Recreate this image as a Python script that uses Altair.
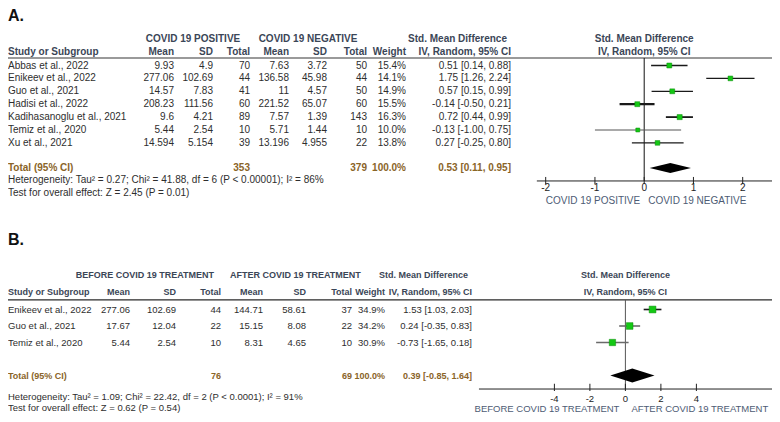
import altair as alt
import pandas as pd

# ---------------- data: panel A (COVID 19 positive vs negative) ----------------
studies_A = ["Abbas et al., 2022", "Enikeev et al., 2022", "Guo et al., 2021",
             "Hadisi et al., 2022", "Kadihasanoglu et al., 2021", "Temiz et al., 2020",
             "Xu et al., 2021"]
pos_mean_A = [9.93, 277.06, 14.57, 208.23, 9.6, 5.44, 14.594]
pos_sd_A = [4.9, 102.69, 7.83, 111.56, 4.21, 2.54, 5.154]
pos_n_A = [70, 44, 41, 60, 89, 10, 39]
neg_mean_A = [7.63, 136.58, 11, 221.52, 7.57, 5.71, 13.196]
neg_sd_A = [3.72, 45.98, 4.57, 65.07, 1.39, 1.44, 4.955]
neg_n_A = [50, 44, 50, 60, 143, 10, 22]
weight_A = [15.4, 14.1, 14.9, 15.5, 16.3, 10.0, 13.8]
smd_A = [0.51, 1.75, 0.57, -0.14, 0.72, -0.13, 0.27]
lo_A = [0.14, 1.26, 0.15, -0.50, 0.44, -1.00, -0.25]
hi_A = [0.88, 2.24, 0.99, 0.21, 0.99, 0.75, 0.80]
total_A = {"n1": 353, "n2": 379, "w": 100.0, "est": 0.53, "lo": 0.11, "hi": 0.95}
het_A = "Heterogeneity: Tau\u00b2 = 0.27; Chi\u00b2 = 41.88, df = 6 (P < 0.00001); I\u00b2 = 86%"
test_A = "Test for overall effect: Z = 2.45 (P = 0.01)"
ticks_A = [-2, -1, 0, 1, 2]
groups_A = ["COVID 19 POSITIVE", "COVID 19 NEGATIVE"]

# ---------------- data: panel B (before vs after treatment) ----------------
studies_B = ["Enikeev et al., 2022", "Guo et al., 2021", "Temiz et al., 2020"]
before_mean_B = [277.06, 17.67, 5.44]
before_sd_B = [102.69, 12.04, 2.54]
before_n_B = [44, 22, 10]
after_mean_B = [144.71, 15.15, 8.31]
after_sd_B = [58.61, 8.08, 4.65]
after_n_B = [37, 22, 10]
weight_B = [34.9, 34.2, 30.9]
smd_B = [1.53, 0.24, -0.73]
lo_B = [1.03, -0.35, -1.65]
hi_B = [2.03, 0.83, 0.18]
total_B = {"n1": 76, "n2": 69, "w": 100.0, "est": 0.39, "lo": -0.85, "hi": 1.64}
het_B = "Heterogeneity: Tau\u00b2 = 1.09; Chi\u00b2 = 22.42, df = 2 (P < 0.0001); I\u00b2 = 91%"
test_B = "Test for overall effect: Z = 0.62 (P = 0.54)"
ticks_B = [-4, -2, 0, 2, 4]
groups_B = ["BEFORE COVID 19 TREATMENT", "AFTER COVID 19 TREATMENT"]

# ---------------- layout & style ----------------
W, H = 764, 406
FONT = "Liberation Sans, Arial, sans-serif"
HEAD = "#3b4657"
BODY = "#2e2e2e"
TOTAL = "#8a6428"
GREEN = "#14c814"
AXLAB = "#4d5b74"

yA = alt.Scale(domain=[0, 10], range=[57.5, 186.5], nice=False, zero=False)
xA = alt.Scale(domain=[-2, 2], range=[537.7, 734.7], nice=False, zero=False)
yB = alt.Scale(domain=[0, 10], range=[301.5, 466.5], nice=False, zero=False)
xB = alt.Scale(domain=[-4, 4], range=[546.4, 688.4], nice=False, zero=False)

colA = {"study": 0, "m1": 166, "s1": 205, "n1": 242, "m2": 281, "s2": 319, "n2": 359, "w": 398, "ci": 503}
colB = {"study": 0, "m1": 122, "s1": 168, "n1": 213, "m2": 255, "s2": 298, "n2": 344, "w": 377, "ci": 464}
grp_pos_A = [(185, "center"), (300, "center")]
grp_pos_B = [(206, "right"), (222, "left")]

ci_color_A = ["#1a1a1a", "#1a1a1a", "#1a1a1a", "#1a1a1a", "#1a1a1a", "#555555", "#1a1a1a"]
ci_width_A = [1.3, 1.3, 1.3, 2.2, 1.8, 1.0, 1.3]
ci_color_B = ["#1a1a1a", "#6a6a6a", "#6a6a6a"]
ci_width_B = [1.6, 1.6, 1.6]


def fmt(v):
    return f"{v:g}"


def ci_txt(e, l, h):
    return f"{e:.2f} [{l:.2f}, {h:.2f}]"


def tlayer(rows, yscale, size, weight="normal", color=BODY, align="left"):
    df = pd.DataFrame(rows, columns=["px", "row", "text"])
    return alt.Chart(df).mark_text(
        align=align, baseline="middle", font=FONT, fontSize=size,
        fontWeight=weight, color=color
    ).encode(
        x=alt.X("px:Q", scale=None, axis=None),
        y=alt.Y("row:Q", scale=yscale, axis=None),
        text="text:N",
    )


def flayer(rows, xscale, yscale, size, weight="normal", color=BODY, align="center", dx=0):
    df = pd.DataFrame(rows, columns=["v", "row", "text"])
    return alt.Chart(df).mark_text(
        align=align, baseline="middle", font=FONT, fontSize=size,
        fontWeight=weight, color=color, dx=dx
    ).encode(
        x=alt.X("v:Q", scale=xscale, axis=None),
        y=alt.Y("row:Q", scale=yscale, axis=None),
        text="text:N",
    )


def panel(label, groups, grp_pos, studies, m1, s1, n1, m2, s2, n2, w, smd, lo, hi, tot, het, test,
          ticks, xs, ys, col, fsize, hsize, grp_rows, tot_row, het_row, test_row,
          ax_row, tick_rows, ticklab_row, side_row, side_dx, axis_ext,
          ci_color, ci_width, size_dom, size_rng, dia_half, line_color, line_w, zero_color,
          label_row):
    n = len(studies)
    layers = []
    # panel label
    layers.append(tlayer([(0, label_row, label)], ys, 16, "bold", "#111111"))
    # group headers
    for (px, al), g in zip(grp_pos, groups):
        layers.append(tlayer([(px, grp_rows[0], g)], ys, hsize, "bold", HEAD, al))
    layers.append(tlayer([(col["ci"] - 4, grp_rows[0], "Std. Mean Difference")], ys, hsize, "bold", HEAD, "right"))
    # column headers
    layers.append(tlayer([(col["study"], grp_rows[1], "Study or Subgroup")], ys, hsize, "bold", HEAD, "left"))
    hdr = [(col["m1"], "Mean"), (col["s1"], "SD"), (col["n1"], "Total"), (col["m2"], "Mean"),
           (col["s2"], "SD"), (col["n2"], "Total"), (col["w"], "Weight"), (col["ci"], "IV, Random, 95% CI")]
    layers.append(tlayer([(p, grp_rows[1], t) for p, t in hdr], ys, hsize, "bold", HEAD, "right"))
    # separator line
    sep = pd.DataFrame({"px": [0], "px2": [W], "row": [-0.58]})
    layers.append(alt.Chart(sep).mark_rule(color=line_color, strokeWidth=line_w).encode(
        x=alt.X("px:Q", scale=None, axis=None), x2="px2:Q",
        y=alt.Y("row:Q", scale=ys, axis=None)))
    # study rows
    layers.append(tlayer([(col["study"], i, studies[i]) for i in range(n)], ys, fsize))
    body = []
    for i in range(n):
        body += [(col["m1"], i, fmt(m1[i])), (col["s1"], i, fmt(s1[i])), (col["n1"], i, str(n1[i])),
                 (col["m2"], i, fmt(m2[i])), (col["s2"], i, fmt(s2[i])), (col["n2"], i, str(n2[i])),
                 (col["w"], i, f"{w[i]:.1f}%"), (col["ci"], i, ci_txt(smd[i], lo[i], hi[i]))]
    layers.append(tlayer(body, ys, fsize, align="right"))
    # total row
    layers.append(tlayer([(col["study"], tot_row, "Total (95% CI)")], ys, hsize, "bold", TOTAL))
    layers.append(tlayer([(col["n1"], tot_row, str(tot["n1"])), (col["n2"], tot_row, str(tot["n2"])),
                          (col["w"], tot_row, f"{tot['w']:.1f}%"),
                          (col["ci"], tot_row, ci_txt(tot["est"], tot["lo"], tot["hi"]))],
                         ys, hsize, "bold", TOTAL, "right"))
    # heterogeneity & test
    layers.append(tlayer([(0, het_row, het), (0, test_row, test)], ys, fsize))

    # ---- forest ----
    X = lambda f: alt.X(f, scale=xs, axis=None)
    Y = lambda f: alt.Y(f, scale=ys, axis=None)
    layers.append(flayer([(0, grp_rows[0], "Std. Mean Difference"), (0, grp_rows[1], "IV, Random, 95% CI")],
                         xs, ys, hsize, "bold", HEAD))
    zl = pd.DataFrame({"v": [0], "r1": [-0.58], "r2": [ax_row]})
    layers.append(alt.Chart(zl).mark_rule(color=zero_color, strokeWidth=1).encode(
        x=X("v:Q"), y=Y("r1:Q"), y2="r2:Q"))
    cdf = pd.DataFrame({"row": list(range(n)), "lo": lo, "hi": hi, "smd": smd, "w": w,
                        "c": ci_color, "sw": ci_width})
    layers.append(alt.Chart(cdf).mark_rule().encode(
        x=X("lo:Q"), x2="hi:Q", y=Y("row:Q"),
        color=alt.Color("c:N", scale=None), strokeWidth=alt.StrokeWidth("sw:Q", scale=None)))
    layers.append(alt.Chart(cdf).mark_square(color=GREEN, opacity=1, stroke="#0a8a0a", strokeWidth=0.5).encode(
        x=X("smd:Q"), y=Y("row:Q"),
        size=alt.Size("w:Q", scale=alt.Scale(domain=size_dom, range=size_rng), legend=None)))
    dia = pd.DataFrame({"v": [tot["lo"], tot["est"], tot["hi"]],
                        "r1": [tot_row, tot_row - dia_half, tot_row],
                        "r2": [tot_row, tot_row + dia_half, tot_row]})
    layers.append(alt.Chart(dia).mark_area(color="#000000", opacity=1).encode(
        x=X("v:Q"), y=Y("r1:Q"), y2="r2:Q"))
    # axis
    ax = pd.DataFrame({"v": [axis_ext[0]], "v2": [axis_ext[1]], "row": [ax_row]})
    layers.append(alt.Chart(ax).mark_rule(color="#222222", strokeWidth=1).encode(
        x=X("v:Q"), x2="v2:Q", y=Y("row:Q")))
    tk = pd.DataFrame({"v": ticks, "r1": [tick_rows[0]] * len(ticks), "r2": [tick_rows[1]] * len(ticks)})
    layers.append(alt.Chart(tk).mark_rule(color="#222222", strokeWidth=1).encode(
        x=X("v:Q"), y=Y("r1:Q"), y2="r2:Q"))
    layers.append(flayer([(t, ticklab_row, str(t)) for t in ticks], xs, ys, fsize, color="#222222"))
    layers.append(flayer([(0, side_row, groups[0])], xs, ys, fsize, color=AXLAB, align="right", dx=-side_dx))
    layers.append(flayer([(0, side_row, groups[1])], xs, ys, fsize, color=AXLAB, align="left", dx=side_dx))
    return alt.layer(*layers)


panelA = panel(
    "A.", groups_A, grp_pos_A,
    studies_A, pos_mean_A, pos_sd_A, pos_n_A, neg_mean_A, neg_sd_A, neg_n_A,
    weight_A, smd_A, lo_A, hi_A, total_A, het_A, test_A, ticks_A, xA, yA, colA,
    10, 10, (-2.05, -1.05), 7.95, 8.91, 9.88,
    8.95, (8.64, 9.19), 9.5, 10.5, 4, (-2.18, 2.6),
    ci_color_A, ci_width_A, [0, 16.3], [0, 26], 0.39, "#9a9a9a", 2, "#111111", -3.84)

panelB = panel(
    "B.", groups_B, grp_pos_B,
    studies_B, before_mean_B, before_sd_B, before_n_B, after_mean_B, after_sd_B, after_n_B,
    weight_B, smd_B, lo_B, hi_B, total_B, het_B, test_B, ticks_B, xB, yB, colB,
    9.5, 9, (-2.09, -1.06), 4.0, 5.33, 5.97,
    4.82, (4.5, 4.94), 5.42, 6.03, 6, (-8.25, 8.4),
    ci_color_B, ci_width_B, [0, 35], [0, 46], 0.42, "#2a2a2a", 1.3, "#555555", -4.21)

chart = alt.layer(panelA, panelB).resolve_scale(
    x="independent", y="independent", size="independent"
).properties(
    width=W, height=H, autosize=alt.AutoSizeParams(type="none"), padding=0
).configure_view(stroke=None)

chart.save("out.html", embed_options={"renderer": "svg", "actions": False})
